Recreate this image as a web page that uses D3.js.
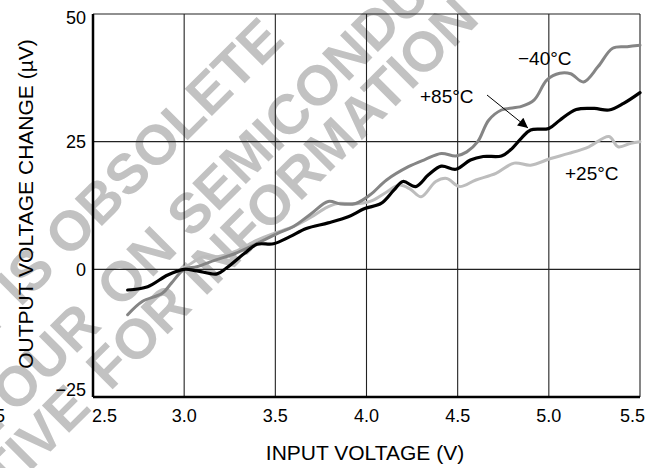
<!DOCTYPE html>
<html>
<head>
<meta charset="utf-8">
<script src="https://cdn.jsdelivr.net/npm/d3@7"></script>
<style>
  body { margin: 0; background: #fff; }
  text { font-family: "Liberation Sans", Arial, Helvetica, sans-serif; }
</style>
</head>
<body>
<div id="chart"></div>
<script>
// Axis ticks
var xTicks = [2.5, 3.0, 3.5, 4.0, 4.5, 5.0, 5.5];
var yTicks = [-25, 0, 25, 50];

// -40°C curve (mid gray)
var xM40 = [2.69, 2.77, 2.88, 2.93, 3.0, 3.07, 3.17, 3.28, 3.4, 3.51, 3.6, 3.7, 3.79, 3.86, 3.94, 4.02, 4.11, 4.23, 4.32, 4.41, 4.49, 4.55, 4.61, 4.67, 4.74, 4.85, 4.92, 4.99, 5.06, 5.12, 5.19, 5.27, 5.35, 5.43, 5.5];
var yM40 = [-8.9, -6.3, -4.7, -2.7, 0, 0.5, 1.8, 3.1, 5.1, 7.0, 8.4, 11.0, 13.3, 12.8, 12.9, 14.6, 17.5, 20.1, 21.5, 22.7, 22.2, 23.0, 25.0, 29.2, 31.2, 31.9, 33.2, 37.1, 38.4, 38.3, 36.7, 39.7, 43.3, 43.6, 43.9];

// +25°C curve (light gray)
var xP25 = [2.97, 3.04, 3.1, 3.19, 3.28, 3.4, 3.49, 3.6, 3.7, 3.77, 3.84, 3.93, 4.02, 4.1, 4.18, 4.24, 4.3, 4.38, 4.44, 4.51, 4.6, 4.71, 4.81, 4.9, 5.01, 5.11, 5.22, 5.33, 5.38, 5.45, 5.5];
var yP25 = [-0.3, 1.2, 2.4, 2.5, 3.5, 5.7, 7.0, 8.4, 10.3, 11.9, 12.9, 12.8, 13.3, 14.9, 16.5, 15.7, 14.2, 17.2, 17.8, 16.2, 17.5, 18.8, 20.8, 20.4, 21.7, 22.7, 24.0, 26.0, 24.0, 24.7, 25.0];

// +85°C curve (black)
var xP85 = [2.69, 2.8, 2.91, 3.0, 3.07, 3.18, 3.23, 3.33, 3.4, 3.49, 3.58, 3.67, 3.79, 3.9, 3.99, 4.08, 4.15, 4.2, 4.27, 4.34, 4.41, 4.49, 4.57, 4.64, 4.74, 4.79, 4.85, 4.9, 5.0, 5.06, 5.15, 5.25, 5.33, 5.41, 5.5];
var yP85 = [-4.05, -3.4, -1.1, 0, -0.3, -0.9, 0.2, 3.1, 4.9, 5.0, 6.4, 8.0, 9.1, 10.3, 11.9, 12.9, 15.5, 17.2, 16.2, 18.5, 20.2, 19.6, 21.4, 22.1, 22.2, 23.4, 25.7, 27.3, 27.6, 29.2, 31.3, 31.5, 31.2, 32.5, 34.6];

var svgWidth = 660;
var svgHeight = 468;

var margin = { top: 14, right: 20, bottom: 71, left: 93 };
var chartWidth = svgWidth - margin.left - margin.right;
var chartHeight = svgHeight - margin.top - margin.bottom;

var svg = d3.select("#chart")
  .append("svg")
  .attr("width", svgWidth)
  .attr("height", svgHeight);

// watermark behind everything
var wm = svg.append("g")
  .style("font-weight", "bold")
  .style("font-size", "56px")
  .attr("fill", "#c2c2c2");

// x, y = baseline start of the second part; first part ends a gap before it
function stamp(x, y, before, after) {
  var g = 24 * Math.SQRT1_2;
  wm.append("text")
    .attr("transform", `translate(${x - g}, ${y + g}) rotate(-45)`)
    .attr("text-anchor", "end")
    .text(before);
  wm.append("text")
    .attr("transform", `translate(${x}, ${y}) rotate(-45)`)
    .text(after);
}
stamp(20, 308, "THIS DEVICE", "IS OBSOLETE");
stamp(120, 310, "CONTACT YOUR", "ON SEMICONDUCTOR");
stamp(110, 392, "REPRESENTATIVE", "FOR INFORMATION");

var chartGroup = svg.append("g")
  .attr("transform", `translate(${margin.left}, ${margin.top})`);

var xScale = d3.scaleLinear().domain([2.5, 5.5]).range([0, chartWidth]);
var yScale = d3.scaleLinear().domain([-25, 50]).range([chartHeight, 0]);

// grid
chartGroup.selectAll(".vgrid")
  .data(xTicks)
  .enter()
  .append("line")
  .attr("x1", d => xScale(d))
  .attr("x2", d => xScale(d))
  .attr("y1", 0)
  .attr("y2", chartHeight)
  .attr("stroke", "#222")
  .attr("stroke-width", 1.1);

chartGroup.selectAll(".hgrid")
  .data(yTicks)
  .enter()
  .append("line")
  .attr("x1", 0)
  .attr("x2", chartWidth)
  .attr("y1", d => yScale(d))
  .attr("y2", d => yScale(d))
  .attr("stroke", "#222")
  .attr("stroke-width", 1.1);

// heavier left and bottom frame
chartGroup.append("line")
  .attr("x1", 0).attr("x2", 0)
  .attr("y1", 0).attr("y2", chartHeight)
  .attr("stroke", "#000").attr("stroke-width", 2.5);
chartGroup.append("line")
  .attr("x1", 0).attr("x2", chartWidth)
  .attr("y1", chartHeight).attr("y2", chartHeight)
  .attr("stroke", "#000").attr("stroke-width", 2.5);

// tick labels
chartGroup.selectAll(".xlab")
  .data(xTicks)
  .enter()
  .append("text")
  .attr("x", d => xScale(d))
  .attr("y", chartHeight + 25)
  .attr("text-anchor", (d, i) => i == 0 ? "start" : (i == xTicks.length - 1 ? "end" : "middle"))
  .attr("dx", (d, i) => i == 0 ? -1 : (i == xTicks.length - 1 ? 5 : 0))
  .style("font-size", "18px")
  .text(d => d.toFixed(1));

chartGroup.selectAll(".ylab")
  .data(yTicks)
  .enter()
  .append("text")
  .attr("x", -7)
  .attr("y", d => yScale(d))
  .attr("dy", (d, i) => i == 0 ? "-0.05em" : (i == yTicks.length - 1 ? "0.55em" : "0.36em"))
  .attr("text-anchor", "end")
  .style("font-size", "18px")
  .text(d => d < 0 ? "\u2212" + Math.abs(d) : d);

// stray label fragment at left edge
svg.append("text")
  .attr("x", -5)
  .attr("y", 422)
  .style("font-size", "18px")
  .text("5");

// curves
var drawLine = d3.line()
  .x(d => xScale(d[0]))
  .y(d => yScale(d[1]))
  .curve(d3.curveCatmullRom.alpha(0.5));

var series = [
  { xs: xP25, ys: yP25, color: "#bdbdbd", w: 3 },
  { xs: xM40, ys: yM40, color: "#858585", w: 3 },
  { xs: xP85, ys: yP85, color: "#000000", w: 3.2 }
];

series.forEach(function(s) {
  chartGroup.append("path")
    .attr("d", drawLine(s.xs.map((x, i) => [x, s.ys[i]])))
    .attr("fill", "none")
    .attr("stroke", s.color)
    .attr("stroke-width", s.w)
    .attr("stroke-linejoin", "round")
    .attr("stroke-linecap", "round");
});

// annotations
svg.append("defs").append("marker")
  .attr("id", "arrow")
  .attr("viewBox", "0 0 10 10")
  .attr("refX", 10).attr("refY", 5)
  .attr("markerWidth", 12).attr("markerHeight", 10)
  .attr("markerUnits", "userSpaceOnUse")
  .attr("orient", "auto")
  .append("path")
  .attr("d", "M0,0 L10,5 L0,10 z")
  .attr("fill", "#000");

svg.append("line")
  .attr("x1", 487).attr("y1", 95)
  .attr("x2", 528).attr("y2", 128)
  .attr("stroke", "#000")
  .attr("stroke-width", 1)
  .attr("marker-end", "url(#arrow)");

svg.append("text").attr("x", 518).attr("y", 65).style("font-size", "19px").text("\u221240\u00b0C");
svg.append("text").attr("x", 420).attr("y", 103).style("font-size", "19px").text("+85\u00b0C");
svg.append("text").attr("x", 565).attr("y", 180).style("font-size", "19px").text("+25\u00b0C");

// axis titles
svg.append("text")
  .attr("x", 365)
  .attr("y", 460)
  .attr("text-anchor", "middle")
  .style("font-size", "21px")
  .text("INPUT VOLTAGE (V)");

svg.append("text")
  .attr("transform", "translate(33, 204) rotate(-90)")
  .attr("text-anchor", "middle")
  .style("font-size", "21px")
  .text("OUTPUT VOLTAGE CHANGE (\u00b5V)");
</script>
</body>
</html>
